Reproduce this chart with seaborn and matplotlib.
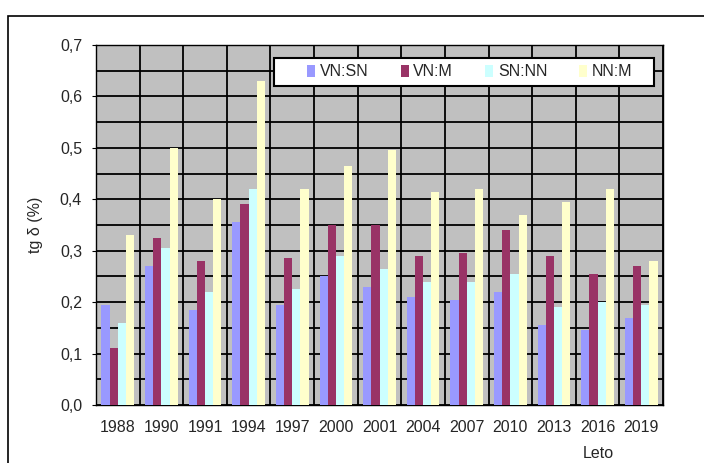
import matplotlib
matplotlib.use("Agg")
import matplotlib.pyplot as plt
import seaborn as sns
import pandas as pd
import numpy as np
from matplotlib.patches import Rectangle
from matplotlib.ticker import MultipleLocator, FixedLocator, FuncFormatter

years = ["1988", "1990", "1991", "1994", "1997", "2000", "2001", "2004", "2007", "2010", "2013", "2016", "2019"]
vn_sn = [0.195, 0.27, 0.185, 0.355, 0.195, 0.25, 0.23, 0.21, 0.205, 0.22, 0.155, 0.145, 0.17]
vn_m = [0.11, 0.325, 0.28, 0.39, 0.285, 0.35, 0.35, 0.29, 0.295, 0.34, 0.29, 0.255, 0.27]
sn_nn = [0.16, 0.305, 0.22, 0.42, 0.225, 0.29, 0.265, 0.24, 0.24, 0.255, 0.19, 0.20, 0.195]
nn_m = [0.33, 0.50, 0.40, 0.63, 0.42, 0.465, 0.495, 0.415, 0.42, 0.37, 0.395, 0.42, 0.28]
series_names = ["VN:SN", "VN:M", "SN:NN", "NN:M"]
colors = ["#9999FF", "#993366", "#CCFFFF", "#FFFFCC"]

rows = []
for name, vals in zip(series_names, [vn_sn, vn_m, sn_nn, nn_m]):
    for y, v in zip(years, vals):
        rows.append({"Leto": y, "series": name, "value": v})
df = pd.DataFrame(rows)

sns.set_style("white")
plt.rcParams['font.family'] = ['Liberation Sans', 'DejaVu Sans']

fig = plt.figure(figsize=(7.04, 4.63), dpi=100)
ax = fig.add_axes([96/704, 1-405/463, (663-96)/704, (405-45)/463])
ax.set_facecolor("#C0C0C0")

sns.barplot(data=df, x="Leto", y="value", hue="series", order=years,
            hue_order=series_names, palette=colors, width=0.75,
            saturation=1, ax=ax, zorder=3, linewidth=0, errorbar=None)

ax.set_ylim(0, 0.7)
ax.set_xlim(-0.5, len(years) - 0.5)
ax.yaxis.set_major_locator(MultipleLocator(0.1))
ax.yaxis.set_minor_locator(MultipleLocator(0.05))
ax.yaxis.set_major_formatter(FuncFormatter(lambda v, p: f"{v:.1f}".replace(".", ",")))
ax.xaxis.set_minor_locator(FixedLocator(np.arange(-0.5, len(years), 1.0)))
ax.grid(True, which="both", axis="y", color="black", linewidth=1.3, zorder=1)
ax.grid(True, which="minor", axis="x", color="black", linewidth=1.3, zorder=1)
ax.grid(False, which="major", axis="x")
ax.set_axisbelow(True)
for s in ax.spines.values():
    s.set_color("black")
    s.set_linewidth(1.0)
ax.tick_params(axis="x", which="major", length=0, labelsize=11.5, pad=11)
ax.tick_params(axis="x", which="minor", length=4, color="black", direction="out")
ax.tick_params(axis="y", which="major", length=3, color="black", direction="out", labelsize=11.5, pad=7, left=True)
ax.tick_params(axis="y", which="minor", length=0)
ax.set_xlabel("")
ax.set_ylabel("tg δ (%)", fontsize=11.5, labelpad=12)
fig.text(598/704, 1-453/463, "Leto", fontsize=11.5, ha="center", va="center")

# legend frame (Excel-style box)
lx0, lx1, ly0, ly1 = 274, 654, 58, 86
ax.add_patch(Rectangle(((lx0-96)/567, (405-ly1)/360), (lx1-lx0)/567, (ly1-ly0)/360,
                       transform=ax.transAxes, facecolor="white", edgecolor="black",
                       linewidth=1.5, zorder=5, clip_on=False))
leg = ax.legend(loc="center", bbox_to_anchor=(((lx0+lx1)/2 + 6 - 96)/567, (405-(ly0+ly1)/2)/360),
                ncol=4, frameon=False, handlelength=0.5, handleheight=0.75, handletextpad=0.3,
                columnspacing=2.0, borderaxespad=0, borderpad=0, fontsize=11.5)
leg.set_zorder(6)

fig.patches.append(Rectangle((8/704, -0.02), 1.0, 1 - 16/463 + 0.02, transform=fig.transFigure,
                             fill=False, edgecolor="black", linewidth=1.2))

fig.savefig("out.png", dpi=100)
